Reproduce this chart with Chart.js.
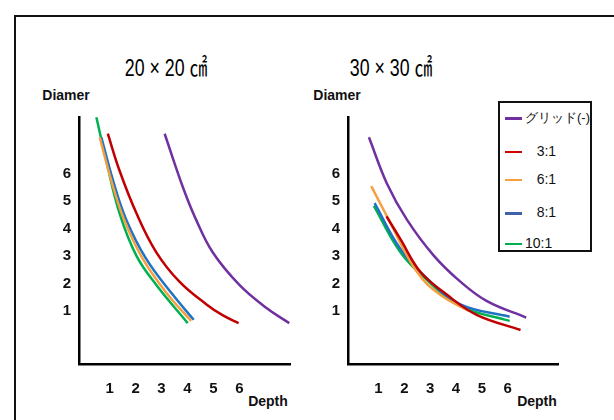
<!DOCTYPE html>
<html>
<head>
<meta charset="utf-8">
<script src="https://cdn.jsdelivr.net/npm/chart.js@4.4.1/dist/chart.umd.min.js"></script>
<style>
    body { margin: 0; background: #fff; width: 614px; height: 420px; overflow: hidden; position: relative; font-family: "Liberation Sans", Arial, sans-serif; }
    .frame { position: absolute; left: 14px; top: 15px; width: 700px; height: 500px; border-left: 2px solid #111; border-top: 2px solid #111; }
    .box { position: absolute; }
    .title { position: absolute; top: 54px; font-family: "Liberation Sans", "Noto Sans CJK JP", sans-serif; font-size: 24px; line-height: 28px; color: #000; transform: translateX(-50%) scaleX(0.74); white-space: nowrap; }
    .lbl { position: absolute; font-weight: bold; font-size: 14px; color: #111; transform: translateX(-50%); }
    .legend { position: absolute; left: 498px; top: 101px; width: 90px; height: 147px; border: 2px solid #111; background: #fff; font-size: 14px; color: #111; }
    .legend div { position: absolute; left: 5px; height: 18px; line-height: 18px; white-space: nowrap; }
    .legend span.mk { display: inline-block; width: 17px; vertical-align: middle; margin-right: 3px; }
</style>
</head>
<body>
<div class="frame"></div>
<div class="title" style="left:166px">20 × 20 ㎠</div>
<div class="title" style="left:391px">30 × 30 ㎠</div>
<div class="lbl" style="left:66px;top:87px">Diamer</div>
<div class="lbl" style="left:337px;top:87px">Diamer</div>
<div class="lbl" style="left:268px;top:393px">Depth</div>
<div class="lbl" style="left:537px;top:393px">Depth</div>

<div class="box" style="left:40px;top:100px;width:260px;height:300px"><canvas id="left"></canvas></div>
<div class="box" style="left:300px;top:100px;width:314px;height:300px"><canvas id="right"></canvas></div>
<div class="legend" id="legend"></div>

<script>
// series names and colours
const seriesNames = ['グリッド(-)', '3:1', '6:1', '8:1', '10:1'];
const seriesColors = ['#7030A0', '#C00000', '#F5A040', '#1F72C4', '#00B050'];
const legendColors = ['#7030A0', '#D00000', '#F5A040', '#4062A8', '#00B050'];
const tickValues = [1, 2, 3, 4, 5, 6];

// 20x20 cm2 : [depth, diameter]
const leftGrid  = [[3.12, 7.46], [3.82, 5.52], [4.33, 4.33], [4.97, 3.14], [6.0, 1.95], [7.03, 1.12], [7.92, 0.56]];
const left3to1  = [[0.93, 7.46], [1.38, 6.12], [2.03, 4.57], [2.80, 3.14], [3.69, 2.07], [4.72, 1.25], [5.35, 0.85], [5.97, 0.56]];
const left6to1  = [[0.62, 7.33], [1.08, 5.7], [1.55, 4.35], [2.25, 2.95], [3.2, 1.65], [4.14, 0.64]];
const left8to1  = [[0.68, 7.33], [1.13, 5.76], [1.64, 4.33], [2.41, 2.90], [3.43, 1.60], [4.24, 0.68]];
const left10to1 = [[0.49, 8.06], [0.87, 6.48], [1.38, 4.57], [2.03, 3.02], [2.80, 1.95], [4.01, 0.56]];

// 30x30 cm2
const rightGrid  = [[0.63, 7.33], [1.33, 5.64], [2.10, 4.33], [3.14, 3.02], [4.17, 2.07], [5.2, 1.36], [6.72, 0.76]];
const right3to1  = [[1.31, 4.45], [1.85, 3.62], [2.62, 2.43], [3.64, 1.60], [4.80, 0.86], [6.5, 0.31]];
const right6to1  = [[0.72, 5.55], [1.33, 4.45], [2.49, 2.43], [3.38, 1.60], [4.5, 1.0]];
const right8to1  = [[0.85, 4.93], [1.85, 3.26], [2.88, 2.19], [4.17, 1.24], [6.08, 0.79]];
const right10to1 = [[0.82, 4.83], [1.85, 3.14], [2.88, 2.13], [4.17, 1.18], [6.08, 0.64]];

function toPoints(arr) {
    return arr.map(p => ({ x: p[0], y: p[1] }));
}

function makeChart(id, series, yWidth, padRight) {
    new Chart(document.getElementById(id), {
        type: 'line',
        data: {
            datasets: series.map((s, i) => ({
                label: seriesNames[i],
                data: toPoints(s),
                borderColor: seriesColors[i],
                borderWidth: 2.5,
                pointRadius: 0,
                tension: 0.4,
                fill: false
            }))
        },
        options: {
            responsive: true,
            maintainAspectRatio: false,
            animation: false,
            layout: { padding: { top: 12, right: padRight, left: 0, bottom: 0 } },
            plugins: { legend: { display: false }, tooltip: { enabled: false } },
            scales: {
                x: {
                    type: 'linear',
                    min: -0.18,
                    max: 7.95,
                    afterBuildTicks: s => { s.ticks = tickValues.map(v => ({ value: v })); },
                    afterFit: s => { s.height = 36; },
                    grid: { display: false, drawTicks: false },
                    border: { display: true, color: '#000', width: 2.5 },
                    ticks: { padding: 16, color: '#111', font: { family: 'Liberation Sans', size: 15, weight: 'bold' } }
                },
                y: {
                    type: 'linear',
                    min: -0.93,
                    max: 8.07,
                    afterBuildTicks: s => { s.ticks = tickValues.map(v => ({ value: v })); },
                    afterFit: s => { s.width = yWidth; },
                    grid: { display: false, drawTicks: false },
                    border: { display: true, color: '#000', width: 2.5 },
                    ticks: { padding: 8, color: '#111', font: { family: 'Liberation Sans', size: 15, weight: 'bold' } }
                }
            }
        }
    });
}

makeChart('left', [leftGrid, left3to1, left6to1, left8to1, left10to1], 39, 10);
makeChart('right', [rightGrid, right3to1, right6to1, right8to1, right10to1], 48, 56);

// legend box
const legendTops = [6, 39, 67, 100, 131];
const legendEl = document.getElementById('legend');
seriesNames.forEach((name, i) => {
    const row = document.createElement('div');
    row.style.top = legendTops[i] + 'px';
    if (i === 0) row.style.fontSize = '13px';
    const thick = i === 0 || i === 3 ? 3 : 2;
    const gap = (i === 0 || i === 4) ? '' : '&nbsp;&nbsp;&nbsp;';
    row.innerHTML = '<span class="mk" style="border-top:' + thick + 'px solid ' + legendColors[i] + '"></span>' + gap + name;
    legendEl.appendChild(row);
});
</script>
</body>
</html>
